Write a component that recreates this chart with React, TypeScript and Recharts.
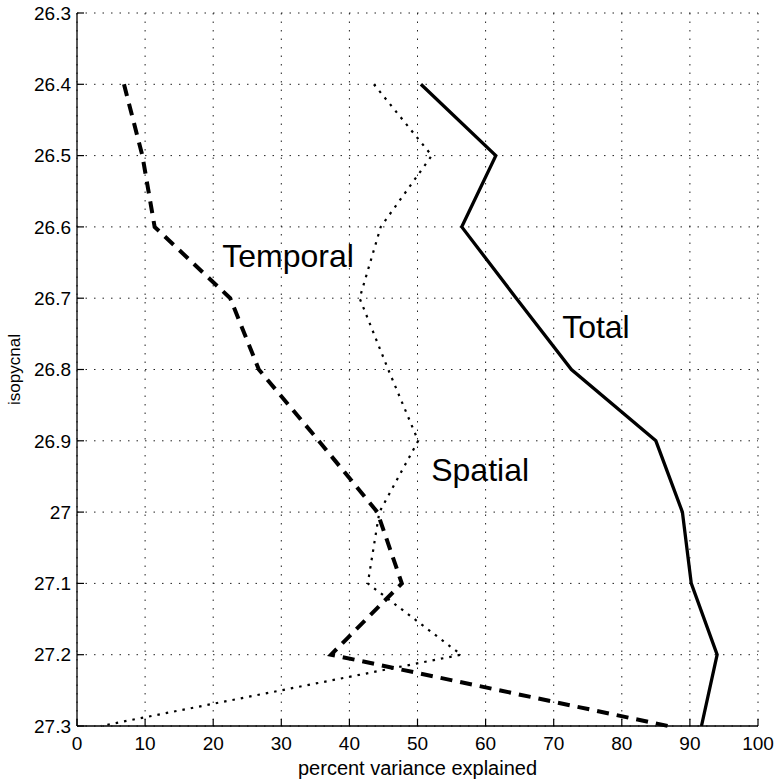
import React from 'react';
import { LineChart, Line, XAxis, YAxis, CartesianGrid, ReferenceDot } from 'recharts';

// isopycnal levels (y) and percent variance explained (x) for each curve
const isopycnal = [26.4, 26.5, 26.6, 26.7, 26.8, 26.9, 27.0, 27.1, 27.2, 27.3];
const total = [50.5, 61.5, 56.5, 64.5, 72.6, 85.0, 88.9, 90.2, 94.0, 91.7];
const temporal = [6.9, 9.6, 11.4, 22.5, 26.7, 35.5, 44.1, 47.7, 37.3, 86.8];
const spatial = [43.6, 52.1, 44.6, 41.5, 45.7, 50.1, 44.4, 42.7, 56.4, 3.5];

const xTicks = [0, 10, 20, 30, 40, 50, 60, 70, 80, 90, 100];
const yTicks = [26.3, 26.4, 26.5, 26.6, 26.7, 26.8, 26.9, 27, 27.1, 27.2, 27.3];

const curveLabels = [
  { text: 'Temporal', x: 31.0, y: 26.641 },
  { text: 'Total', x: 76.2, y: 26.74 },
  { text: 'Spatial', x: 59.2, y: 26.941 },
];

const data = isopycnal.map((iso, i) => ({
  iso,
  total: total[i],
  temporal: temporal[i],
  spatial: spatial[i],
}));

const font = '"Liberation Sans", Arial, Helvetica, sans-serif';
const axisLine = { stroke: '#000', strokeWidth: 1.3 };
const tickLine = { stroke: '#000', strokeWidth: 1.2 };

export default function App() {
  return (
    <div style={{ fontFamily: font }}>
      {/* chart fills the whole window, so drop the default body margin */}
      <style>{'body{margin:0;overflow:hidden}'}</style>
      <LineChart
        width={777}
        height={782}
        data={data}
        layout="vertical"
        margin={{ top: 13, right: 19, bottom: 26, left: 0 }}
      >
        <CartesianGrid stroke="#222" strokeDasharray="1.5 7" strokeWidth={1} />
        <XAxis
          type="number"
          domain={[0, 100]}
          ticks={xTicks}
          interval={0}
          height={30}
          axisLine={axisLine}
          tickLine={tickLine}
          tickSize={-7}
          tickMargin={18}
          tick={{ fill: '#000', fontSize: 19, fontFamily: font }}
          label={{ value: 'percent variance explained', position: 'bottom', offset: 5, fill: '#000', fontSize: 20, fontFamily: font }}
        />
        <XAxis
          xAxisId="top"
          orientation="top"
          type="number"
          domain={[0, 100]}
          ticks={xTicks}
          interval={0}
          height={0}
          axisLine={axisLine}
          tickLine={tickLine}
          tickSize={-7}
          tick={false}
        />
        <YAxis
          dataKey="iso"
          type="number"
          domain={[26.3, 27.3]}
          ticks={yTicks}
          interval={0}
          width={77}
          axisLine={axisLine}
          tickLine={tickLine}
          tickSize={-7}
          tickMargin={13}
          tickFormatter={(v: number) => String(v)}
          tick={{ fill: '#000', fontSize: 19, fontFamily: font }}
          label={{ value: 'isopycnal', angle: -90, position: 'insideLeft', offset: 14, fill: '#000', fontSize: 17, fontFamily: font, style: { textAnchor: 'middle' } }}
        />
        <YAxis
          yAxisId="right"
          orientation="right"
          type="number"
          domain={[26.3, 27.3]}
          ticks={yTicks}
          interval={0}
          width={0}
          axisLine={axisLine}
          tickLine={tickLine}
          tickSize={-7}
          tick={false}
        />
        <Line dataKey="total" type="linear" stroke="#000" strokeWidth={3.3} dot={false} isAnimationActive={false} />
        <Line dataKey="temporal" type="linear" stroke="#000" strokeWidth={4} strokeDasharray="12 8" dot={false} isAnimationActive={false} />
        <Line dataKey="spatial" type="linear" stroke="#000" strokeWidth={2.2} strokeDasharray="2.5 6" dot={false} isAnimationActive={false} />
        {curveLabels.map((l) => (
          <ReferenceDot
            key={l.text}
            x={l.x}
            y={l.y}
            r={0}
            fill="none"
            stroke="none"
            ifOverflow="visible"
            label={{ value: l.text, position: 'center', fill: '#000', fontSize: 32, fontFamily: font }}
          />
        ))}
      </LineChart>
    </div>
  );
}
